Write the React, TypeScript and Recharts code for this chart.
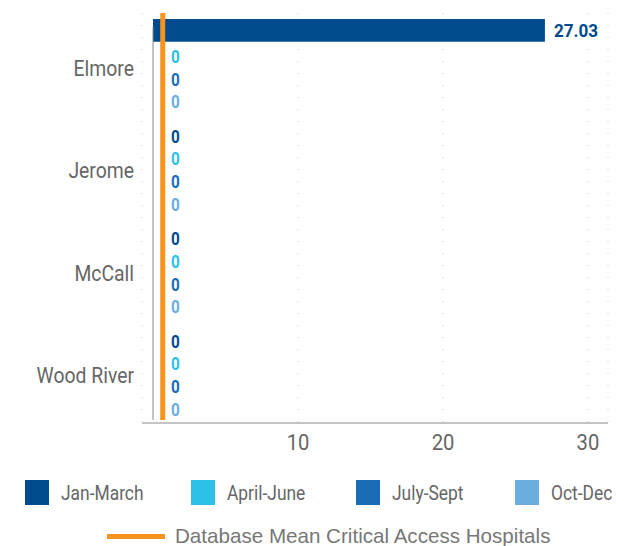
import {
  BarChart, Bar, XAxis, YAxis, CartesianGrid, ReferenceLine, LabelList,
} from 'recharts';

const hospitals = ['Elmore', 'Jerome', 'McCall', 'Wood River'];
const janMarch = [27.03, 0, 0, 0];
const aprilJune = [0, 0, 0, 0];
const julySept = [0, 0, 0, 0];
const octDec = [0, 0, 0, 0];
const meanCAH = 0.67;
const xTicks = [10, 20, 30];

const seriesNames = ['Jan-March', 'April-June', 'July-Sept', 'Oct-Dec'];
const seriesColors = ['#004a8d', '#2dc1e8', '#1a6db5', '#6aaee0'];
const meanLabel = 'Database Mean Critical Access Hospitals';
const meanColor = '#f7941d';

const data = hospitals.map((name, i) => ({
  name,
  s0: janMarch[i],
  s1: aprilJune[i],
  s2: julySept[i],
  s3: octDec[i],
}));

// no condensed font installed, so Roboto squeezed horizontally
const font = "Roboto, 'Noto Sans', sans-serif";
const regular = "'Liberation Sans', Arial, sans-serif";

const makeLabel = (color: string) => (props: any) => {
  const vb = props.viewBox || props;
  const { x, y, width, height } = vb;
  const zero = Number(props.value) === 0;
  const tx = x + (zero ? 18 : width + 9);
  const ty = y + height / 2 + (zero ? 4 : 0);
  return (
    <text
      transform={`translate(${tx},${ty}) scale(${zero ? 0.85 : 0.9},1)`}
      dominantBaseline="central"
      fill={color}
      fontFamily={font}
      fontWeight={700}
      fontSize={zero ? 18 : 19}
    >
      {props.value}
    </text>
  );
};

const CategoryTick = ({ x, y, payload }: any) => (
  <text transform={`translate(${x},${y + 4}) scale(0.88,1)`} textAnchor="end"
    dominantBaseline="central" fill="#666" fontFamily={font} fontSize={22}>
    {payload.value}
  </text>
);

const NumberTick = ({ x, y, payload }: any) => (
  <text transform={`translate(${x},${y + 2}) scale(0.92,1)`} textAnchor="middle"
    dominantBaseline="hanging" fill="#666" fontFamily={font} fontSize={22}>
    {payload.value}
  </text>
);

const AxisLineShape = (props: any) => (
  <line x1={props.x1} x2={props.x2} y1={props.y1 - 3} y2={props.y2 + 14}
    stroke="#888" strokeWidth={1} />
);

const MeanLineShape = (props: any) => (
  <line x1={props.x1} x2={props.x2} y1={props.y1 - 3} y2={props.y2}
    stroke={meanColor} strokeWidth={5} />
);

const legendX = [25, 191, 356, 515];

export default function App() {
  return (
    <div style={{ position: 'absolute', left: 0, top: 0, width: 629, height: 546, background: '#fff' }}>
      <BarChart
        width={629}
        height={470}
        data={data}
        layout="vertical"
        margin={{ top: 13, right: 21, bottom: 7, left: 0 }}
        barGap={0}
        barSize={22.7}
      >
        <CartesianGrid horizontal={false} stroke="#c8c8c8" strokeDasharray="1 11" />
        <XAxis
          type="number"
          domain={[-0.76, 31.38]}
          allowDataOverflow
          ticks={xTicks}
          height={40}
          tickLine={false}
          axisLine={{ stroke: '#888' }}
          tick={<NumberTick />}
        />
        <YAxis
          type="category"
          dataKey="name"
          width={142}
          axisLine={false}
          tickLine={false}
          tick={<CategoryTick />}
        />
        <ReferenceLine x={0} shape={<AxisLineShape />} ifOverflow="visible" />
        {seriesColors.map((c, i) => (
          <Bar key={i} dataKey={`s${i}`} name={seriesNames[i]} fill={c}
            minPointSize={0.01} isAnimationActive={false}>
            <LabelList dataKey={`s${i}`} content={makeLabel(c)} />
          </Bar>
        ))}
        <ReferenceLine x={meanCAH} shape={<MeanLineShape />} ifOverflow="visible" />
      </BarChart>
      {seriesNames.map((n, i) => (
        <div key={n} style={{ position: 'absolute', left: legendX[i], top: 480, display: 'flex', alignItems: 'center', whiteSpace: 'nowrap' }}>
          <div style={{ width: 24, height: 25, background: seriesColors[i], marginRight: 12 }} />
          <span style={{ fontFamily: font, fontSize: 20, color: '#666', display: 'inline-block', transform: 'scaleX(0.87)', transformOrigin: 'left center' }}>{n}</span>
        </div>
      ))}
      <div style={{ position: 'absolute', left: 107, top: 524, display: 'flex', alignItems: 'center', whiteSpace: 'nowrap' }}>
        <div style={{ width: 58, height: 5, background: meanColor, marginRight: 10 }} />
        <span style={{ fontFamily: regular, fontSize: 20.6, color: '#777' }}>{meanLabel}</span>
      </div>
    </div>
  );
}
